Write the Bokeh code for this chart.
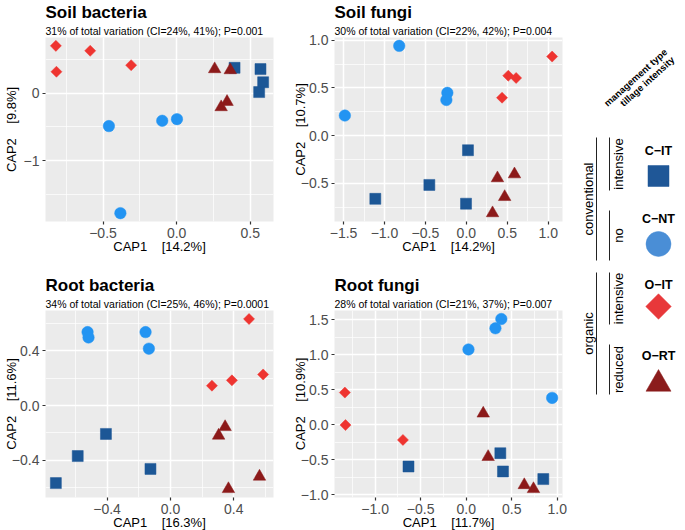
import numpy as np
from bokeh.plotting import figure
from bokeh.layouts import row, column
from bokeh.models import Range1d, FixedTicker, Title
from bokeh.core.properties import value
from bokeh.embed import file_html
from bokeh.resources import INLINE

FONT = "Liberation Sans"
NB = "\u00a0"

# ---------------- data ----------------
group_names = ["C\u2212IT", "C\u2212NT", "O\u2212IT", "O\u2212RT"]
mgmt_types = ["conventional", "organic"]
tillage_levels = ["intensive", "no", "intensive", "reduced"]

# Soil bacteria
sb_cit_x = [0.393, 0.569, 0.587, 0.560]
sb_cit_y = [0.372, 0.353, 0.159, 0.014]
sb_cnt_x = [-0.460, -0.098, 0.002, -0.382]
sb_cnt_y = [-0.488, -0.410, -0.386, -1.773]
sb_oit_x = [-0.820, -0.816, -0.587, -0.309]
sb_oit_y = [0.696, 0.314, 0.623, 0.411]
sb_ort_x = [0.258, 0.364, 0.342, 0.302]
sb_ort_y = [0.353, 0.338, -0.130, -0.208]
sb_xticks = [-0.5, 0.0, 0.5]
sb_xlabels = ["\u22120.5", "0.0", "0.5"]
sb_xminor = [-0.75, -0.25, 0.25]
sb_yticks = [-1.0, 0.0]
sb_ylabels = ["\u22121", "0"]
sb_yminor = [-1.5, -0.5, 0.5]

# Soil fungi
sf_cit_x = [0.020, -0.452, -1.112, -0.004]
sf_cit_y = [-0.153, -0.517, -0.663, -0.714]
sf_cnt_x = [-0.820, -1.484, -0.232, -0.244]
sf_cnt_y = [0.942, 0.211, 0.449, 0.374]
sf_oit_x = [1.048, 0.512, 0.608, 0.436]
sf_oit_y = [0.830, 0.629, 0.605, 0.398]
sf_ort_x = [0.380, 0.588, 0.468, 0.320]
sf_ort_y = [-0.446, -0.405, -0.643, -0.813]
sf_xticks = [-1.5, -1.0, -0.5, 0.0, 0.5, 1.0]
sf_xlabels = ["\u22121.5", "\u22121.0", "\u22120.5", "0.0", "0.5", "1.0"]
sf_xminor = [-1.25, -0.75, -0.25, 0.25, 0.75]
sf_yticks = [-0.5, 0.0, 0.5, 1.0]
sf_ylabels = ["\u22120.5", "0.0", "0.5", "1.0"]
sf_yminor = [-0.75, -0.25, 0.25, 0.75]

# Root bacteria
rb_cit_x = [-0.407, -0.585, -0.126, -0.723]
rb_cit_y = [-0.208, -0.370, -0.464, -0.568]
rb_cnt_x = [-0.523, -0.517, -0.157, -0.136]
rb_cnt_y = [0.537, 0.498, 0.537, 0.416]
rb_oit_x = [0.496, 0.585, 0.388, 0.262]
rb_oit_y = [0.633, 0.227, 0.184, 0.145]
rb_ort_x = [0.345, 0.304, 0.562, 0.366]
rb_ort_y = [-0.157, -0.220, -0.520, -0.611]
rb_xticks = [-0.4, 0.0, 0.4]
rb_xlabels = ["\u22120.4", "0.0", "0.4"]
rb_xminor = [-0.6, -0.2, 0.2, 0.6]
rb_yticks = [-0.4, 0.0, 0.4]
rb_ylabels = ["\u22120.4", "0.0", "0.4"]
rb_yminor = [-0.6, -0.2, 0.2, 0.6]

# Root fungi
rf_cit_x = [-0.634, 0.375, 0.404, 0.847]
rf_cit_y = [-0.598, -0.408, -0.669, -0.778]
rf_cnt_x = [0.386, 0.321, 0.025, 0.944]
rf_cnt_y = [1.513, 1.380, 1.077, 0.384]
rf_oit_x = [-1.333, -1.326, -0.695]
rf_oit_y = [0.460, -0.005, -0.218]
rf_ort_x = [0.187, 0.241, 0.638, 0.739]
rf_ort_y = [0.161, -0.460, -0.863, -0.920]
rf_xticks = [-1.0, -0.5, 0.0, 0.5, 1.0]
rf_xlabels = ["\u22121.0", "\u22120.5", "0.0", "0.5", "1.0"]
rf_xminor = [-1.25, -0.75, -0.25, 0.25, 0.75]
rf_yticks = [-1.0, -0.5, 0.0, 0.5, 1.0, 1.5]
rf_ylabels = ["\u22121.0", "\u22120.5", "0.0", "0.5", "1.0", "1.5"]
rf_yminor = [-0.75, -0.25, 0.25, 0.75, 1.25]

# ---------------- styles ----------------
COL = {"C-IT": "#1C5796", "C-NT": "#2394F2", "O-IT": "#EE3430", "O-RT": "#8C1A1A"}
LEG_COL = {"C-IT": "#1F5797", "C-NT": "#4A8ED6", "O-IT": "#E8383A", "O-RT": "#8B1C1C"}
MARK = {"C-IT": ("square", 11, 0.0), "C-NT": ("circle", 11.5, 0.0),
        "O-IT": ("square", 7.8, np.pi / 4), "O-RT": ("triangle", 12.5, 0.0)}
LEG_MARK = {"C-IT": ("square", 21, 0.0), "C-NT": ("circle", 25, 0.0),
            "O-IT": ("square", 18, np.pi / 4), "O-RT": ("triangle", 25, 0.0)}


def expand(vals):
    lo, hi = min(vals), max(vals)
    pad = 0.05 * (hi - lo)
    return Range1d(lo - pad, hi + pad)


def panel(title, subtitle, xlab, ylab, series, xt, xl, xm, yt, yl, ym,
          fh, bt, bb, br, ylab_standoff):
    xs = sum([s[1] for s in series], [])
    ys = sum([s[2] for s in series], [])
    p = figure(frame_width=228, frame_height=fh, x_range=expand(xs), y_range=expand(ys),
               output_backend="svg", toolbar_location=None, title=None,
               min_border_left=38, min_border_right=br, min_border_top=bt,
               min_border_bottom=bb)
    p.background_fill_color = "#EBEBEB"
    p.border_fill_color = "white"
    p.outline_line_color = None

    p.xaxis.ticker = FixedTicker(ticks=xt, minor_ticks=xm)
    p.yaxis.ticker = FixedTicker(ticks=yt, minor_ticks=ym)
    p.xaxis.major_label_overrides = dict(zip(xt, xl))
    p.yaxis.major_label_overrides = dict(zip(yt, yl))
    p.xaxis.axis_label = xlab
    p.yaxis.axis_label = ylab
    for ax in (p.xaxis[0], p.yaxis[0]):
        ax.axis_line_color = None
        ax.major_tick_line_color = "#333333"
        ax.major_tick_line_width = 1.2
        ax.major_tick_out = 3
        ax.major_tick_in = 0
        ax.minor_tick_line_color = None
        ax.major_label_text_font = FONT
        ax.major_label_text_font_size = "14px"
        ax.major_label_text_color = "#4D4D4D"
        ax.major_label_standoff = 2
        ax.axis_label_text_font = FONT
        ax.axis_label_text_font_size = "13px"
        ax.axis_label_text_font_style = "normal"
        ax.axis_label_text_color = "black"
    p.xaxis.axis_label_standoff = -2
    p.yaxis.axis_label_standoff = ylab_standoff

    p.grid.grid_line_color = "white"
    p.grid.grid_line_width = 1.5
    p.grid.minor_grid_line_color = "white"
    p.grid.minor_grid_line_width = 0.7

    p.add_layout(Title(text=subtitle, align="left", text_font=FONT, text_font_size="10.5px",
                       text_font_style="normal", text_color="black", standoff=1), "above")
    p.add_layout(Title(text=title, align="left", text_font=FONT, text_font_size="17px",
                       text_font_style="bold", text_color="black", standoff=1), "above")

    for key, x, y in series:
        m, sz, ang = MARK[key]
        p.scatter(x, y, marker=m, size=sz, angle=ang, fill_color=COL[key],
                  line_color=COL[key], line_width=0.5)
    return p


TOP_FH, BOT_FH = 184, 187
TOP_BT, TOP_BB = 33, 42
BOT_BT, BOT_BB = 47, 34

p1 = panel("Soil bacteria", "31% of total variation (CI=24%, 41%); P=0.001",
           "CAP1" + NB * 4 + "[14.2%]", "CAP2" + NB * 4 + "[9.8%]",
           [("C-IT", sb_cit_x, sb_cit_y), ("C-NT", sb_cnt_x, sb_cnt_y),
            ("O-IT", sb_oit_x, sb_oit_y), ("O-RT", sb_ort_x, sb_ort_y)],
           sb_xticks, sb_xlabels, sb_xminor, sb_yticks, sb_ylabels, sb_yminor,
           TOP_FH, TOP_BT, TOP_BB, 16, 2)
p2 = panel("Soil fungi", "30% of total variation (CI=22%, 42%); P=0.004",
           "CAP1" + NB * 4 + "[14.2%]", "CAP2" + NB * 4 + "[10.7%]",
           [("C-IT", sf_cit_x, sf_cit_y), ("C-NT", sf_cnt_x, sf_cnt_y),
            ("O-IT", sf_oit_x, sf_oit_y), ("O-RT", sf_ort_x, sf_ort_y)],
           sf_xticks, sf_xlabels, sf_xminor, sf_yticks, sf_ylabels, sf_yminor,
           TOP_FH, TOP_BT, TOP_BB, 5, -10)
p3 = panel("Root bacteria", "34% of total variation (CI=25%, 46%); P=0.0001",
           "CAP1" + NB * 4 + "[16.3%]", "CAP2" + NB * 4 + "[11.6%]",
           [("C-IT", rb_cit_x, rb_cit_y), ("C-NT", rb_cnt_x, rb_cnt_y),
            ("O-IT", rb_oit_x, rb_oit_y), ("O-RT", rb_ort_x, rb_ort_y)],
           rb_xticks, rb_xlabels, rb_xminor, rb_yticks, rb_ylabels, rb_yminor,
           BOT_FH, BOT_BT, BOT_BB, 16, -10)
p4 = panel("Root fungi", "28% of total variation (CI=21%, 37%); P=0.007",
           "CAP1" + NB * 4 + "[11.7%]", "CAP2" + NB * 4 + "[10.9%]",
           [("C-IT", rf_cit_x, rf_cit_y), ("C-NT", rf_cnt_x, rf_cnt_y),
            ("O-IT", rf_oit_x, rf_oit_y), ("O-RT", rf_ort_x, rf_ort_y)],
           rf_xticks, rf_xlabels, rf_xminor, rf_yticks, rf_ylabels, rf_yminor,
           BOT_FH, BOT_BT, BOT_BB, 5, -10)

# ---------------- legend panel ----------------
LW = 116
LH = TOP_BT + TOP_FH + TOP_BB + BOT_BT + BOT_FH + BOT_BB
lg = figure(width=LW, height=LH, x_range=Range1d(0, LW), y_range=Range1d(LH, 0),
            output_backend="svg", toolbar_location=None, title=None, min_border=0)
lg.axis.visible = False
lg.grid.visible = False
lg.outline_line_color = None
lg.background_fill_color = "white"
lg.border_fill_color = "white"

hdr_ang = np.deg2rad(42)
lg.text(x=[38, 54], y=[104, 104], text=["management type", "tillage intensity"],
        angle=hdr_ang, text_font=value(FONT), text_font_size=value("9.5px"),
        text_font_style="bold", text_align="left", text_baseline="alphabetic",
        text_color="black")

# management type brackets
lg.segment(x0=[29, 29], y0=[137, 272], x1=[29, 29], y1=[260, 394],
           line_color="#222222", line_width=1)
lg.text(x=[20.5, 20.5], y=[198.5, 333], text=mgmt_types, angle=np.pi / 2,
        text_font=value(FONT), text_font_size=value("13px"), text_align="center",
        text_baseline="middle", text_color="black")
# tillage brackets
lg.segment(x0=[42, 42, 42, 42], y0=[137, 210, 272, 344], x1=[42, 42, 42, 42],
           y1=[190, 260, 324, 394], line_color="#222222", line_width=1)
lg.text(x=[51, 51, 51, 51], y=[163.5, 235, 298, 369], text=tillage_levels,
        angle=np.pi / 2, text_font=value(FONT), text_font_size=value("13px"),
        text_align="center", text_baseline="middle", text_color="black")

# group labels + keys
keys = ["C-IT", "C-NT", "O-IT", "O-RT"]
lab_y = [150.5, 218, 284.5, 355]
key_y = [175.5, 243.5, 306, 383.5]
lg.text(x=[91] * 4, y=lab_y, text=group_names, text_font=value(FONT),
        text_font_size=value("12.5px"), text_font_style="bold", text_align="center",
        text_baseline="middle", text_color="black")
for k, yy in zip(keys, key_y):
    m, sz, ang = LEG_MARK[k]
    lg.scatter([91], [yy], marker=m, size=sz, angle=ang, fill_color=LEG_COL[k],
               line_color=LEG_COL[k], line_width=0.5)

layout = row(column(p1, p3), column(p2, p4), lg)
open("out.html", "w").write(file_html(layout, INLINE))
